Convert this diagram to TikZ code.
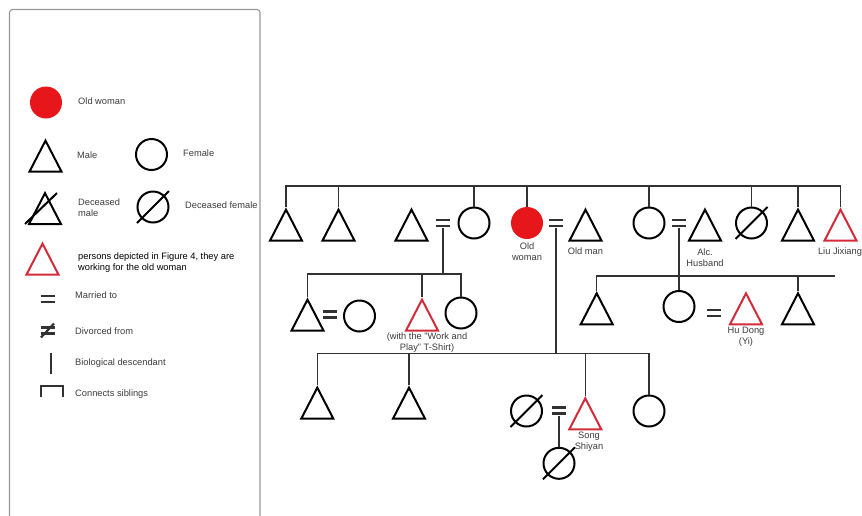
\documentclass[tikz,border=0pt]{standalone}
\usepackage{fontspec}
\setmainfont{Liberation Sans}
\usepackage{tikz}
\usetikzlibrary{shapes.geometric, positioning, calc}
\definecolor{oldred}{RGB}{230,22,26}
\definecolor{workred}{RGB}{211,43,57}
\definecolor{linegray}{RGB}{50,50,50}
\definecolor{txtgray}{RGB}{60,60,60}
\definecolor{boxgray}{RGB}{150,150,150}
\tikzset{
  male/.style={isosceles triangle, isosceles triangle stretches,
    shape border rotate=90, minimum width=32pt, minimum height=31pt,
    inner sep=0pt, draw=black, line width=2pt, anchor=apex},
  worker/.style={male, draw=workred},
  female/.style={circle, draw=black, line width=2pt,
    minimum size=31pt, inner sep=0pt},
  oldwoman/.style={circle, fill=oldred, minimum size=32pt, inner sep=0pt},
  marry/.style={minimum width=14pt, minimum height=10pt, inner sep=0pt},
  bar/.style={linegray, line width=2.6pt},
  kin/.style={linegray, line width=1.5pt},
  deadline/.style={black, line width=2pt},
  lbl/.style={font=\fontsize{9.3}{11}\selectfont, text=txtgray, align=center, inner sep=0pt},
  keytext/.style={lbl, anchor=west, align=left}
}
\newcommand{\deadmark}[1]{%
  \draw[deadline] ([shift={(-16,16)}]#1.center) -- ([shift={(16,-16)}]#1.center);}
\newcommand{\wedbars}[1]{%
  \draw[bar] ([shift={(-7,-3)}]#1.center) -- ([shift={(7,-3)}]#1.center)
             ([shift={(-7,3)}]#1.center) -- ([shift={(7,3)}]#1.center);}

\begin{document}
\begin{tikzpicture}[x=1pt, y=-1pt]
  \useasboundingbox (0,0) rectangle (862,515);
  % Legend
  \draw[boxgray, line width=1.1pt, rounded corners=3pt]
    (9.5,525) -- (9.5,9.5) -- (260,9.5) -- (260,525);
  \node[oldwoman] (kold) at (46,102.5) {};
  \node[keytext] (koldt) at (78,101) {Old woman};
  \node[male] (kmale) at (45.5,138) {};
  \node[keytext] (kmalet) at (77,155) {Male};
  \node[female] (kfem) at (151.5,154.5) {};
  \node[keytext] (kfemt) at (183,153) {Female};
  \node[male] (kdm) at (45,190.5) {};
  \draw[deadline] ([shift={(-20,33.5)}]kdm.apex) -- ([shift={(12,2.5)}]kdm.apex);
  \node[keytext] (kdmt) at (78,207.5) {Deceased\\male};
  \node[female] (kdf) at (153,207) {};
  \deadmark{kdf}
  \node[keytext] (kdft) at (185,205) {Deceased female};
  \node[worker] (kwork) at (42.5,241) {};
  \node[keytext, text=black] (kworkt) at (78,262.5)
    {persons depicted in Figure 4, they are\\working for the old woman};
  \node[marry] (keq) at (47.5,299) {};
  \wedbars{keq}
  \node[keytext] (keqt) at (75,295) {Married to};
  \node[marry] (kdiv) at (47.5,330.5) {};
  \wedbars{kdiv}
  \draw[linegray, line width=2.2pt] (41,337.5) -- (54,323.5);
  \node[keytext] (kdivt) at (75,331) {Divorced from};
  \draw[kin] (51,353) -- (51,374);
  \node[keytext] (kdest) at (75,363) {Biological descendant};
  \draw[kin] (41,397) -- (41,386) -- (63,386) -- (63,397);
  \node[keytext] (ksibt) at (75,394) {Connects siblings};

  % Generation 1
  \coordinate (gen1) at (0,186);
  \node[male] (u1) at (286,207) {};
  \node[male] (u2) at (338.5,207) {};
  \node[male] (inlaw) at (411.5,207) {};
  \node[marry] (m1) at (443,223) {};
  \node[female] (aunt) at (474,223) {};
  \node[oldwoman] (old) at (527,223) {};
  \node[marry] (m2) at (556,223) {};
  \node[male] (oldman) at (585.5,207) {};
  \node[female] (dau) at (649,223) {};
  \node[marry] (m3) at (679,223) {};
  \node[male] (alc) at (705,207) {};
  \node[female] (sis) at (751.5,223) {};
  \deadmark{sis}
  \node[male] (u3) at (798,207) {};
  \node[worker] (liu) at (840.5,207) {};
  \foreach \m in {m1, m2, m3}
    \wedbars{\m};
  \draw[kin] (u1.apex) -- (u1.apex |- gen1) -- (liu.apex |- gen1) -- (liu.apex);
  \foreach \n in {u2.apex, aunt.north, old.north, dau.north, sis.north, u3.apex}
    \draw[kin] (\n) -- (\n |- gen1);
  \node[lbl] (oldt) at (527,252) {Old\\woman};
  \node[lbl] (oldmant) at (585.5,251) {Old man};
  \node[lbl] (alct) at (705,258) {Alc.\\Husband};
  \node[lbl] (liut) at (840,252) {Liu Jixiang};

  % Generation 2, left
  \coordinate (gen2a) at (0,274);
  \node[male] (c1) at (307.5,297) {};
  \node[marry] (m4) at (330,314.7) {};
  \wedbars{m4}
  \node[female] (c1w) at (359.5,316) {};
  \node[worker] (shirt) at (422,297) {};
  \node[female] (c2) at (461,313) {};
  \draw[kin] (m1.south) -- (m1.south |- gen2a);
  \draw[kin] (c1.apex) -- (c1.apex |- gen2a) -- (c2.north |- gen2a) -- (c2.north);
  \draw[kin] (shirt.apex) -- (shirt.apex |- gen2a);
  \node[lbl] (shirtt) at (427,342.5) {(with the "Work and\\Play" T-Shirt)};

  % Generation 2, right
  \coordinate (gen2b) at (0,276);
  \coordinate (gen2end) at (835,276);
  \node[male] (g1) at (596.7,290.7) {};
  \node[female] (g2) at (679,306.5) {};
  \node[marry] (m5) at (713.7,313) {};
  \wedbars{m5}
  \node[worker] (hu) at (746,290.7) {};
  \node[male] (g3) at (798,290.7) {};
  \draw[kin] (m3.south) -- (g2.north);
  \draw[kin] (g1.apex) -- (g1.apex |- gen2b) -- (gen2end);
  \draw[kin] (g3.apex) -- (g3.apex |- gen2b);
  \node[lbl] (hut) at (746,337) {Hu Dong\\(Yi)};

  % Generation 3
  \coordinate (gen3) at (0,353.3);
  \node[male] (h1) at (317.3,385) {};
  \node[male] (h2) at (409,385) {};
  \node[female] (wife) at (526.5,411) {};
  \deadmark{wife}
  \node[marry] (m6) at (559,410.5) {};
  \wedbars{m6}
  \node[worker] (song) at (585.3,395.7) {};
  \node[female] (h4) at (649,411) {};
  \node[female] (child) at (559,463.3) {};
  \deadmark{child}
  \draw[kin] (m2.south) -- (m2.south |- gen3);
  \draw[kin] (h1.apex) -- (h1.apex |- gen3) -- (h4.north |- gen3) -- (h4.north);
  \foreach \n in {h2.apex, song.apex}
    \draw[kin] (\n) -- (\n |- gen3);
  \draw[kin] (m6.south) -- (child.north);
  \node[lbl] (songt) at (589,441.5) {Song\\Shiyan};
\end{tikzpicture}
\end{document}
